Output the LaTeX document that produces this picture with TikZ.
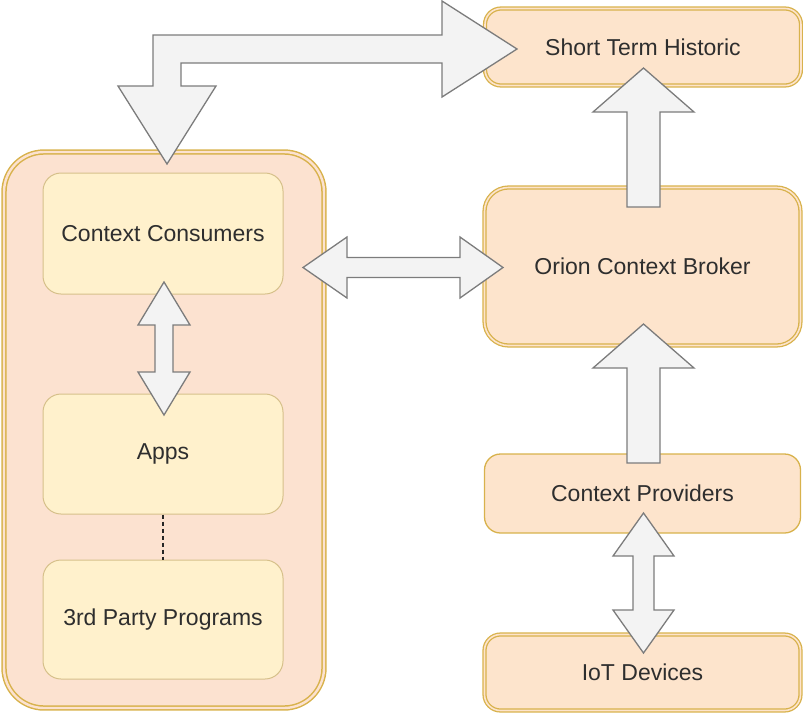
\documentclass[tikz,border=0pt]{standalone}
\usepackage{fontspec}
\setmainfont{Liberation Sans}
\definecolor{contfill}{HTML}{FCE2D0}
\definecolor{goldline}{HTML}{D8B24C}
\definecolor{innerfill}{HTML}{FFF1CC}
\definecolor{innerline}{HTML}{D6C08A}
\definecolor{boxfill}{HTML}{FDE4CC}
\definecolor{arrfill}{HTML}{F3F3F3}
\definecolor{arrline}{HTML}{7C7C7C}
\definecolor{txt}{HTML}{2E2E2E}
\tikzset{
  lbl/.style={font=\fontsize{23}{27}\selectfont, text=txt},
  container/.style={draw=goldline, fill=contfill, rounded corners=40pt, line width=1.5pt, double=contfill, double distance=2.4pt, minimum width=320pt, minimum height=556pt},
  innerbox/.style={lbl, draw=innerline, fill=innerfill, rounded corners=18pt, line width=1pt, minimum width=240pt},
  rbox/.style={lbl, draw=goldline, fill=boxfill, rounded corners=16pt, line width=1.3pt, minimum width=316pt},
  rboxd/.style={rbox, double=boxfill, double distance=1.6pt},
  blockarrow/.style={draw=arrline, fill=arrfill, line width=1.3pt, line join=miter},
  dotline/.style={draw=black!85, line width=1.4pt, dash pattern=on 4pt off 3pt}
}
\begin{document}
\begin{tikzpicture}[x=1pt,y=-1pt]
\useasboundingbox (0,0) rectangle (803,713);
% left container and its boxes
\node[container] (cont) at (164,430) {};
\node[innerbox, minimum height=121pt] (cc) at (163,233.5) {Context Consumers};
\node[innerbox, minimum height=120pt] (apps) at (163,454) {Apps};
\node[innerbox, minimum height=119pt] (third) at (163,619.5) {3rd Party Programs};
\draw[dotline] (apps.south) -- (third.north);
% right boxes
\node[rboxd, minimum height=77pt] (sth) at (643,47) {Short Term Historic};
\node[rboxd, minimum height=158pt, rounded corners=24pt] (orion) at (642.5,266.5) {Orion Context Broker};
\node[rbox, minimum height=79pt] (cp) at (642.5,493.5) {Context Providers};
\node[rboxd, minimum height=76pt] (iot) at (642.5,672.5) {IoT Devices};
% bent arrow: container <-> short term historic
\draw[blockarrow] (153,86) -- (153,35) -- (442,35) -- (442,1) -- (517,49) -- (442,97) -- (442,63)
  -- (181,63) -- (181,86) -- (216,86) -- (167,164) -- (118,86) -- cycle;
% orion -> short term historic
\draw[blockarrow] (627,207) -- (627,112) -- (593,112) -- (643.5,68) -- (694,112) -- (660,112) -- (660,207) -- cycle;
% context providers -> orion
\draw[blockarrow] (627,463) -- (627,368) -- (593,368) -- (643.5,324) -- (694,368) -- (660,368) -- (660,463) -- cycle;
% context consumers <-> orion
\draw[blockarrow] (303,267.5) -- (347,237) -- (347,257.5) -- (460,257.5) -- (460,237) -- (503,267.5)
  -- (460,298) -- (460,277.5) -- (347,277.5) -- (347,298) -- cycle;
% context consumers <-> apps
\draw[blockarrow] (164,282) -- (190,325) -- (173,325) -- (173,372) -- (190,372) -- (164,415)
  -- (138,372) -- (155,372) -- (155,325) -- (138,325) -- cycle;
% context providers <-> iot devices
\draw[blockarrow] (643.5,513) -- (674,556) -- (654,556) -- (654,610) -- (674,610) -- (643.5,653)
  -- (613,610) -- (633,610) -- (633,556) -- (613,556) -- cycle;
\end{tikzpicture}
\end{document}
